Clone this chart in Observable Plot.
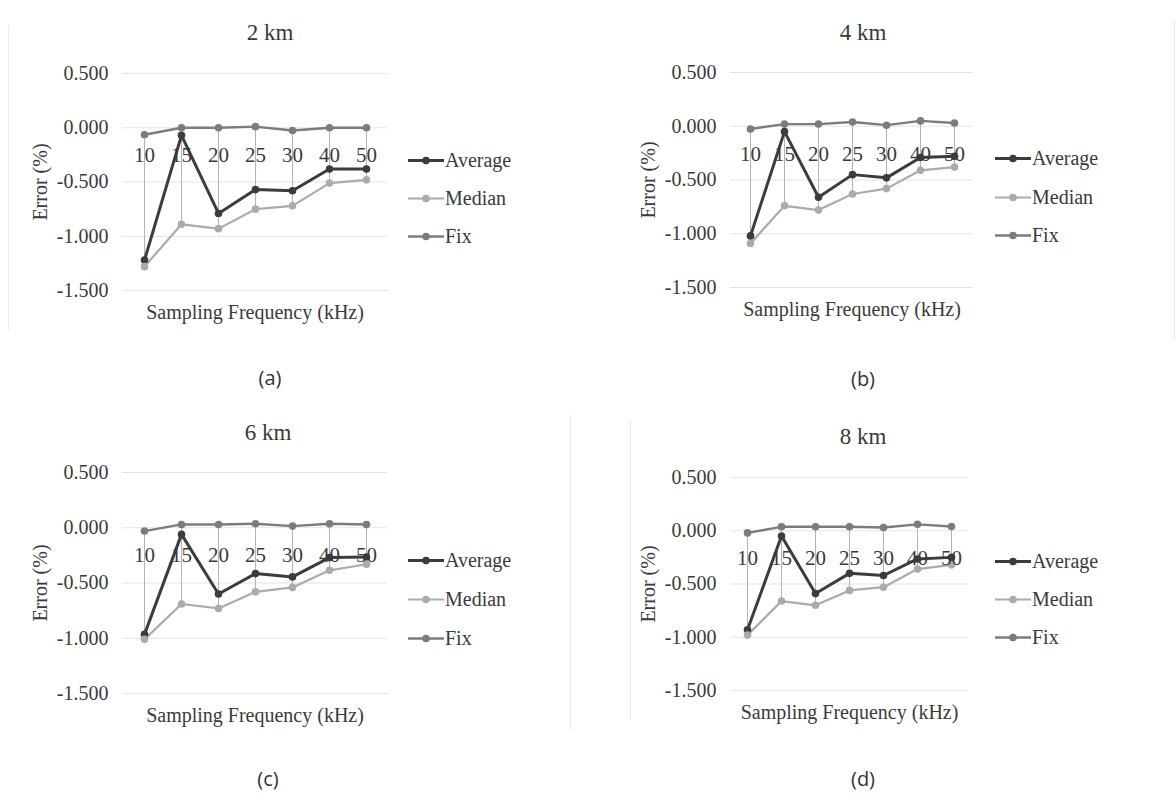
<!DOCTYPE html>
<html>
<head>
<meta charset="utf-8">
<script src="https://cdn.jsdelivr.net/npm/d3@7"></script>
<script src="https://cdn.jsdelivr.net/npm/@observablehq/plot@0.6"></script>
<style>
  html, body { margin: 0; padding: 0; background: #fff; }
  #root { position: relative; width: 1176px; height: 799px; overflow: hidden; background: #fff; }
  #root svg text { font-family: "Liberation Serif", serif !important; font-variant: normal !important; }
  .abs { position: absolute; }
  .title { font-family: "Liberation Serif", serif; font-size: 23px; color: #3a3a3a; transform: translate(-50%, -50%); white-space: nowrap; }
  .caption { font-family: "Open Sans", sans-serif; font-size: 20px; color: #333; transform: translate(-50%, -50%); white-space: nowrap; }
  .legend-item { font-family: "Liberation Serif", serif; font-size: 20px; color: #3a3a3a; display: flex; align-items: center; transform: translateY(-50%); white-space: nowrap; }
  .legend-item svg { margin-right: 1px; }
  .frame-line { position: absolute; background: #ececec; }
</style>
</head>
<body>
<div id="root"></div>
<script>
// ---- data ----
const freqs = ["10", "15", "20", "25", "30", "40", "50"];
const seriesNames = ["Average", "Median", "Fix"];
const seriesColors = ["#3c3c3c", "#ababab", "#7c7c7c"];
const seriesWidths = [3, 2.2, 2.4];
const yTicks = [0.5, 0, -0.5, -1, -1.5];

const titles = ["2 km", "4 km", "6 km", "8 km"];
const captions = ["(a)", "(b)", "(c)", "(d)"];

const avg2 = [-1.22, -0.07, -0.79, -0.57, -0.58, -0.38, -0.38];
const med2 = [-1.28, -0.89, -0.93, -0.75, -0.72, -0.51, -0.48];
const fix2 = [-0.065, 0.0, 0.0, 0.01, -0.025, 0.0, 0.0];

const avg4 = [-1.02, -0.05, -0.66, -0.45, -0.48, -0.29, -0.28];
const med4 = [-1.09, -0.74, -0.78, -0.63, -0.58, -0.41, -0.38];
const fix4 = [-0.025, 0.02, 0.02, 0.04, 0.01, 0.05, 0.03];

const avg6 = [-0.965, -0.06, -0.60, -0.415, -0.445, -0.27, -0.265];
const med6 = [-1.01, -0.69, -0.73, -0.58, -0.54, -0.385, -0.33];
const fix6 = [-0.03, 0.03, 0.03, 0.036, 0.015, 0.036, 0.03];

const avg8 = [-0.93, -0.05, -0.59, -0.40, -0.42, -0.265, -0.25];
const med8 = [-0.98, -0.66, -0.70, -0.56, -0.53, -0.36, -0.32];
const fix8 = [-0.02, 0.037, 0.037, 0.037, 0.03, 0.06, 0.04];

// ---- layout (pixel geometry of each panel) ----
const panels = [
  { values: [avg2, med2, fix2], svgLeft: 0,   xLeft: 122, xRight: 387, yTop: 73,  yBot: 290,
    titleX: 270, titleY: 33,  capX: 270, capY: 377, legX: 408, legY: [160, 198, 236] },
  { values: [avg4, med4, fix4], svgLeft: 580, xLeft: 730, xRight: 973, yTop: 72,  yBot: 287,
    titleX: 863, titleY: 33,  capX: 863, capY: 378, legX: 995, legY: [158, 197, 235] },
  { values: [avg6, med6, fix6], svgLeft: 0,   xLeft: 122, xRight: 387, yTop: 472, yBot: 693,
    titleX: 268, titleY: 433, capX: 268, capY: 778, legX: 408, legY: [560, 599, 638] },
  { values: [avg8, med8, fix8], svgLeft: 580, xLeft: 730, xRight: 968, yTop: 477, yBot: 690,
    titleX: 863, titleY: 437, capX: 863, capY: 778, legX: 995, legY: [561, 599, 637] }
];

const root = document.getElementById("root");

// faint chart-area borders (Excel chart frames)
[[8, 25, 1, 305], [570, 415, 1, 315], [630, 420, 1, 300], [1174, 20, 1, 320]].forEach(([l, t, w, h]) => {
  const d = document.createElement("div");
  d.className = "frame-line";
  Object.assign(d.style, { left: l + "px", top: t + "px", width: w + "px", height: h + "px" });
  root.appendChild(d);
});

panels.forEach((cfg, k) => {
  const rows = [];
  seriesNames.forEach((s, i) => freqs.forEach((f, j) => rows.push({ series: s, f, v: cfg.values[i][j] })));
  const hl = freqs.map((f, j) => {
    const vs = cfg.values.map(a => a[j]);
    return { f, lo: d3.min(vs), hi: d3.max(vs) };
  });

  const mt = 20, mb = 45, mr = 8;
  const svgTop = cfg.yTop - mt;
  const chart = Plot.plot({
    width: cfg.xRight + mr - cfg.svgLeft,
    height: mt + (cfg.yBot - cfg.yTop) + mb,
    marginLeft: cfg.xLeft - cfg.svgLeft,
    marginRight: mr,
    marginTop: mt,
    marginBottom: mb,
    x: { type: "point", domain: freqs, padding: 0.5 },
    y: { domain: [-1.5, 0.5] },
    color: { domain: seriesNames, range: seriesColors },
    style: { fontFamily: "Liberation Serif, serif", fontSize: "20px", color: "#3a3a3a", background: "transparent", overflow: "visible" },
    marks: [
      Plot.ruleY(yTicks, { stroke: "#e4e4e4", strokeWidth: 1.2 }),
      Plot.axisY({ ticks: yTicks, tickFormat: d => d.toFixed(3), tickSize: 0, tickPadding: 14, fontSize: 20,
                   label: "Error (%)", labelAnchor: "center", labelOffset: 90, labelArrow: false }),
      Plot.axisX({ ticks: [], tickSize: 0, label: "Sampling Frequency (kHz)", labelAnchor: "center",
                   labelOffset: 28, labelArrow: false }),
      Plot.ruleX(hl, { x: "f", y1: "lo", y2: "hi", stroke: "#b5b5b5", strokeWidth: 1 }),
      ...seriesNames.map((s, i) =>
        Plot.line(rows.filter(r => r.series === s), { x: "f", y: "v", stroke: "series", strokeWidth: seriesWidths[i] })),
      Plot.dot(rows, { x: "f", y: "v", fill: "series", r: 3.8 }),
      Plot.text(freqs, { x: d => d, y: () => 0, dy: 28, text: d => d, fill: "#3a3a3a", fontSize: 21 })
    ]
  });
  chart.classList.add("abs");
  chart.style.left = cfg.svgLeft + "px";
  chart.style.top = svgTop + "px";
  root.appendChild(chart);

  const t = document.createElement("div");
  t.className = "abs title";
  t.textContent = titles[k];
  t.style.left = cfg.titleX + "px"; t.style.top = cfg.titleY + "px";
  root.appendChild(t);

  const c = document.createElement("div");
  c.className = "abs caption";
  c.textContent = captions[k];
  c.style.left = cfg.capX + "px"; c.style.top = cfg.capY + "px";
  root.appendChild(c);

  seriesNames.forEach((s, i) => {
    const item = document.createElement("div");
    item.className = "abs legend-item";
    item.style.left = cfg.legX + "px";
    item.style.top = cfg.legY[i] + "px";
    item.innerHTML = `<svg width="36" height="12"><line x1="0" x2="36" y1="6" y2="6" stroke="${seriesColors[i]}" stroke-width="${seriesWidths[i]}"/><circle cx="18" cy="6" r="3.8" fill="${seriesColors[i]}"/></svg><span>${s}</span>`;
    root.appendChild(item);
  });
});
</script>
</body>
</html>
